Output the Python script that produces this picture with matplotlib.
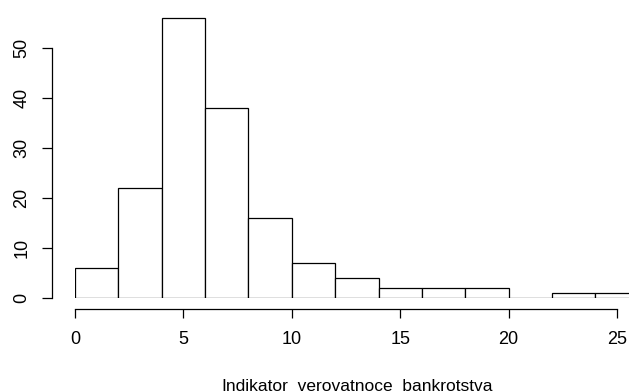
import matplotlib
matplotlib.use('Agg')
import matplotlib.pyplot as plt
import numpy as np

plt.rcParams['font.family'] = ['Liberation Sans', 'DejaVu Sans']

bin_edges = [0, 2, 4, 6, 8, 10, 12, 14, 16, 18, 20, 22, 24, 26]
counts = [6, 22, 56, 38, 16, 7, 4, 2, 2, 2, 0, 1, 1]
xticks = [0, 5, 10, 15, 20, 25]
yticks = [0, 10, 20, 30, 40, 50]
xlabel = 'Indikator_verovatnoce_bankrotstva'

fig = plt.figure(figsize=(6.29, 3.92), dpi=100)
ax = fig.add_axes([75/629, (392-297.5)/392, 554/629, (297.5-13)/392])

left = np.array(bin_edges[:-1])
widths = np.diff(bin_edges)
ax.bar(left, counts, width=widths, align='edge', facecolor='white',
       edgecolor='black', linewidth=0.9)

ax.set_xlim(0, 554/21.68)
ax.set_ylim(0, 57)

for s in ['top', 'right']:
    ax.spines[s].set_visible(False)
ax.spines['bottom'].set_position(('outward', 8.6))
ax.spines['left'].set_position(('outward', 16.6))
ax.spines['bottom'].set_bounds(0, 25)
ax.spines['left'].set_bounds(0, 50)
for s in ['bottom', 'left']:
    ax.spines[s].set_linewidth(0.9)

ax.set_xticks(xticks)
ax.set_xticklabels([str(t) for t in xticks], fontsize=13)
ax.set_yticks(yticks)
ax.set_yticklabels([str(t) for t in yticks], fontsize=13, rotation=90, va='center')
ax.tick_params(axis='x', length=6.5, width=0.9, pad=9)
ax.tick_params(axis='y', length=7.5, width=0.9, pad=8)

# label sits on the bottom edge; the underscores fall outside the figure
fig.text(221/629, (392-378.5)/392, xlabel, ha='left', va='top', fontsize=12.5)

fig.savefig('out.png', dpi=100)
